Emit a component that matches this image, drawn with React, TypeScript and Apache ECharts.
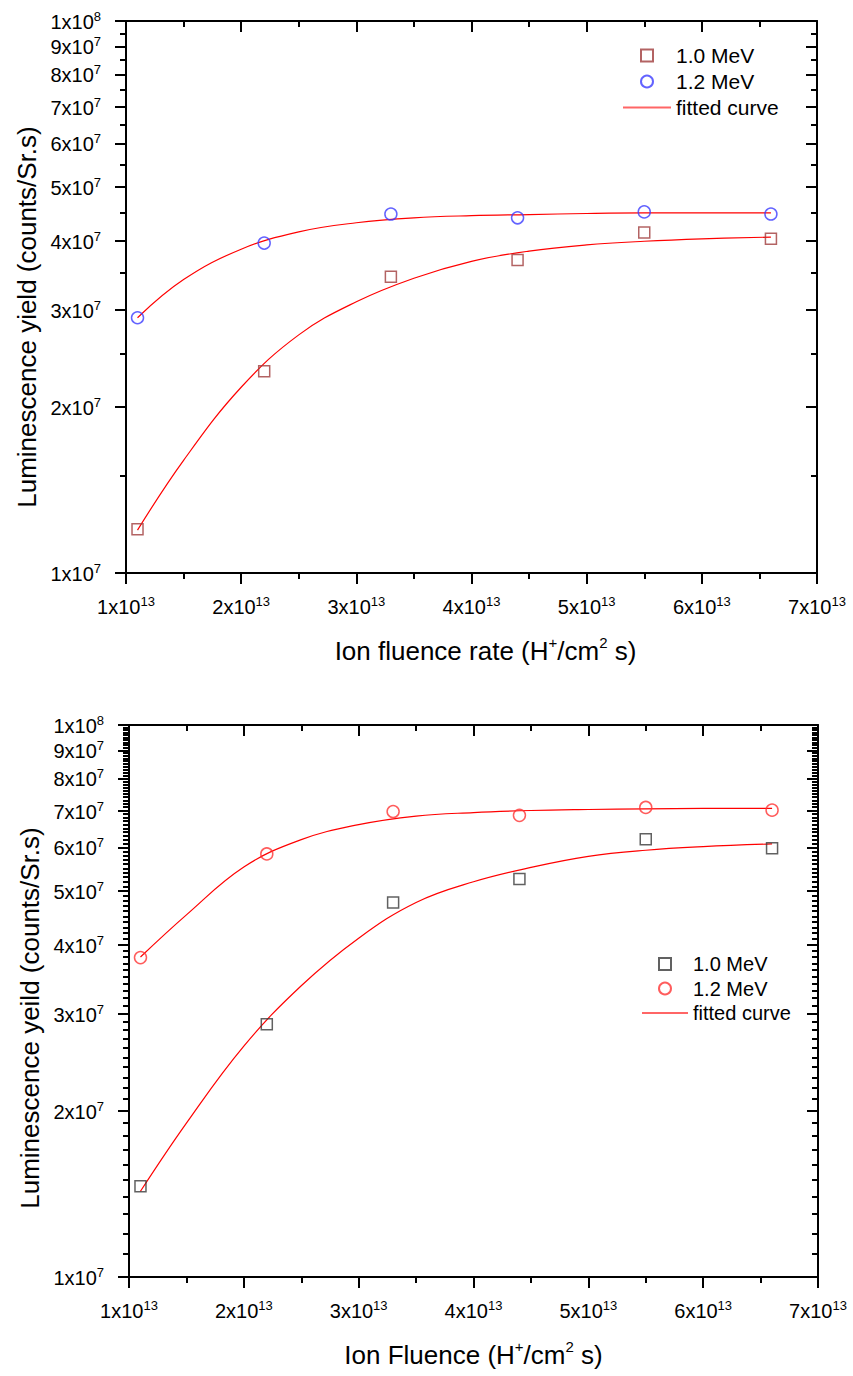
import React, { useEffect, useRef } from "react";
import * as echarts from "echarts";

// ---------- data ----------
const xTickValues = [1e13, 2e13, 3e13, 4e13, 5e13, 6e13, 7e13];
const yMajorValues = [1e7, 2e7, 3e7, 4e7, 5e7, 6e7, 7e7, 8e7, 9e7, 1e8];
const yMinorTop = [1.5e7, 2.5e7, 3.5e7, 4.5e7, 5.5e7, 6.5e7, 7.5e7, 8.5e7, 9.5e7];
const yMinorBottom: number[] = [];
for (let d = 1; d <= 9; d++) for (let k = 1; k <= 9; k++) yMinorBottom.push((d + k / 10) * 1e7);

const fluence = [1.1e13, 2.2e13, 3.3e13, 4.4e13, 5.5e13, 6.6e13];
const fitX = [1.1e13, 1.5e13, 2e13, 2.5e13, 3e13, 3.5e13, 4e13, 4.5e13, 5e13, 5.5e13, 6e13, 6.6e13];

// top chart: Ion fluence rate
const rate10 = [1.2e7, 2.32e7, 3.44e7, 3.69e7, 4.14e7, 4.03e7];
const rate12 = [2.9e7, 3.96e7, 4.47e7, 4.4e7, 4.51e7, 4.47e7];
const rateFit10 = [1.196e7, 1.6e7, 2.17e7, 2.7e7, 3.1e7, 3.42e7, 3.67e7, 3.83e7, 3.93e7, 3.99e7, 4.03e7, 4.06e7];
const rateFit12 = [2.9e7, 3.4e7, 3.86e7, 4.15e7, 4.31e7, 4.4e7, 4.44e7, 4.46e7, 4.48e7, 4.49e7, 4.49e7, 4.49e7];

// bottom chart: Ion fluence
const flu10 = [1.46e7, 2.87e7, 4.77e7, 5.26e7, 6.21e7, 5.98e7];
const flu12 = [3.79e7, 5.84e7, 6.97e7, 6.86e7, 7.09e7, 7.01e7];
const fluFit10 = [1.43e7, 1.9e7, 2.62e7, 3.37e7, 4.11e7, 4.77e7, 5.2e7, 5.52e7, 5.78e7, 5.93e7, 6.02e7, 6.09e7];
const fluFit12 = [3.8e7, 4.53e7, 5.53e7, 6.2e7, 6.6e7, 6.84e7, 6.94e7, 7.0e7, 7.03e7, 7.05e7, 7.06e7, 7.06e7];

// ---------- helpers ----------
const FONT = "'Liberation Sans', Arial, sans-serif";
const BLACK = "#000";
const SQUARE = "path://M0 0L10 0L10 10L0 10Z";

function sci(v: number) {
  const e = Math.floor(Math.log10(v) + 1e-6);
  const m = Math.round(v / Math.pow(10, e));
  return `{m|${m}x10}{e|${e}}`;
}
const sciRich = {
  m: { fontSize: 20, fontFamily: FONT, color: BLACK, lineHeight: 22, verticalAlign: "bottom" },
  e: { fontSize: 13, fontFamily: FONT, color: BLACK, lineHeight: 13, verticalAlign: "top" },
};
const lineStyle = { color: BLACK, width: 2 };

function xAxisDef(position: string, inside: boolean, showLabel: boolean, name: string, namePad: number[]) {
  return {
    type: "value",
    position,
    min: 1e13,
    max: 7e13,
    interval: 1e13,
    axisLine: { show: true, onZero: false, lineStyle },
    axisTick: { show: true, inside, length: 11, lineStyle },
    minorTick: { show: true, splitNumber: 2, length: 6, lineStyle },
    splitLine: { show: false },
    minorSplitLine: { show: false },
    axisLabel: showLabel
      ? { show: true, margin: 22, hideOverlap: false, formatter: sci, rich: sciRich }
      : { show: false },
    name: showLabel ? name : "",
    nameLocation: "middle",
    nameGap: 62,
    nameTextStyle: {
      fontSize: 26,
      fontFamily: FONT,
      color: BLACK,
      lineHeight: 32,
      padding: namePad,
      rich: { s: { fontSize: 15, fontFamily: FONT, color: BLACK, lineHeight: 15, verticalAlign: "top" } },
    },
  };
}

function yAxisDef(
  position: string,
  inside: boolean,
  values: number[],
  len: number,
  showLine: boolean,
  showLabel: boolean,
  name: string,
  namePad: number[]
) {
  return {
    type: "log",
    logBase: 10,
    position,
    min: 0.9999999e7,
    max: 1.0000001e8,
    axisLine: { show: showLine, onZero: false, lineStyle },
    axisTick: { show: true, inside, length: len, customValues: values, lineStyle },
    minorTick: { show: false },
    splitLine: { show: false },
    minorSplitLine: { show: false },
    axisLabel: showLabel
      ? {
          show: true,
          customValues: values,
          margin: 25,
          hideOverlap: false,
          showMinLabel: true,
          showMaxLabel: true,
          formatter: sci,
          rich: sciRich,
        }
      : { show: false },
    name: showLabel ? name : "",
    nameLocation: "middle",
    nameGap: 84,
    nameTextStyle: { fontSize: 26, fontFamily: FONT, color: BLACK, padding: namePad },
  };
}

function buildOption(cfg: any) {
  const pairs = (xs: number[], ys: number[]) => xs.map((x, i) => [x, ys[i]]);
  const fitLine = (ys: number[]) => ({
    name: "fitted curve",
    type: "line",
    data: pairs(fitX, ys),
    smooth: 0.4,
    symbol: "none",
    lineStyle: { color: "#ff0000", width: 1.2 },
    itemStyle: { color: "#ff0000" },
    z: 2,
  });
  return {
    animation: false,
    backgroundColor: "#fff",
    grid: cfg.grid,
    xAxis: [
      xAxisDef("bottom", false, true, cfg.xName, cfg.xPad),
      xAxisDef("top", true, false, "", [0, 0, 0, 0]),
    ],
    yAxis: [
      yAxisDef("left", false, yMajorValues, 11, true, true, cfg.yName, cfg.yPad),
      yAxisDef("left", false, cfg.minor, 6, false, false, "", [0, 0, 0, 0]),
      yAxisDef("right", true, yMajorValues, 11, true, false, "", [0, 0, 0, 0]),
      yAxisDef("right", true, cfg.minor, 6, false, false, "", [0, 0, 0, 0]),
    ],
    legend: {
      orient: "vertical",
      itemWidth: cfg.legend.itemWidth,
      itemHeight: 12,
      itemGap: cfg.legend.itemGap,
      left: cfg.legend.left,
      top: cfg.legend.top,
      symbolKeepAspect: true,
      textStyle: { fontSize: cfg.legend.fontSize, fontFamily: FONT, color: BLACK },
      data: [
        { name: "1.0 MeV", icon: SQUARE },
        { name: "1.2 MeV", icon: "circle" },
        {
          name: "fitted curve",
          itemStyle: { color: "rgba(0,0,0,0)", borderColor: "rgba(0,0,0,0)", borderWidth: 0 },
          lineStyle: { color: "#ff6666", width: 2 },
        },
      ],
    },
    series: [
      fitLine(cfg.fitSq),
      fitLine(cfg.fitCi),
      {
        name: "1.0 MeV",
        type: "scatter",
        data: pairs(fluence, cfg.sq),
        symbol: SQUARE,
        symbolSize: 11,
        symbolKeepAspect: true,
        itemStyle: { color: "rgba(255,255,255,0)", borderColor: cfg.sqColor, borderWidth: 1.5 },
        z: 3,
      },
      {
        name: "1.2 MeV",
        type: "scatter",
        data: pairs(fluence, cfg.ci),
        symbol: "circle",
        symbolSize: 12,
        itemStyle: { color: "rgba(255,255,255,0)", borderColor: cfg.ciColor, borderWidth: 1.5 },
        z: 3,
      },
    ],
  };
}

function Chart({ option, top }: { option: any; top: number }) {
  const ref = useRef<HTMLDivElement>(null);
  useEffect(() => {
    if (!ref.current) return;
    const chart = echarts.init(ref.current, undefined, { renderer: "svg" });
    chart.setOption(option);
    return () => chart.dispose();
  }, [option]);
  return (
    <div
      ref={ref}
      style={{ position: "absolute", left: 0, top, width: 853, height: 688 }}
    />
  );
}

const topOption = buildOption({
  grid: { left: 126, top: 21, width: 691, height: 552 },
  xName: "Ion fluence rate (H{s|+}/cm{s|2} s)",
  xPad: [0, 0, 0, 28],
  yName: "Luminescence yield (counts/Sr.s)",
  yPad: [0, 40, 0, 0],
  minor: yMinorTop,
  sq: rate10,
  ci: rate12,
  fitSq: rateFit10,
  fitCi: rateFit12,
  sqColor: "#a03c3c",
  ciColor: "#3c3cff",
  legend: { left: 617, top: 40, itemWidth: 48, itemGap: 5, fontSize: 21 },
});

const bottomOption = buildOption({
  grid: { left: 129, top: 37, width: 689, height: 556 },
  xName: "Ion Fluence (H{s|+}/cm{s|2} s)",
  xPad: [0, 0, 0, 0],
  yName: "Luminescence yeild (counts/Sr.s)",
  yPad: [0, 34, 0, 0],
  minor: yMinorBottom,
  sq: flu10,
  ci: flu12,
  fitSq: fluFit10,
  fitCi: fluFit12,
  sqColor: "#3a3a3a",
  ciColor: "#ff3333",
  legend: { left: 636, top: 261, itemWidth: 46, itemGap: 4.5, fontSize: 20 },
});

export default function App() {
  return (
    <div
      style={{
        position: "absolute",
        left: 0,
        top: 0,
        width: 853,
        height: 1376,
        background: "#fff",
      }}
    >
      <Chart option={topOption} top={0} />
      <Chart option={bottomOption} top={688} />
    </div>
  );
}
